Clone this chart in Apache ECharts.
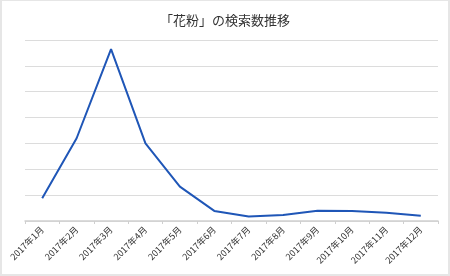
<!DOCTYPE html>
<html>
<head>
<meta charset="utf-8">
<script src="https://cdn.jsdelivr.net/npm/echarts@6/dist/echarts.min.js"></script>
<style>
html,body{margin:0;padding:0;background:#fff;}
#wrap{position:absolute;left:0;top:0;width:450px;height:276px;box-sizing:border-box;border:2px solid #e6e6e6;border-top-width:1px;}
#chart{position:absolute;left:0;top:0;width:450px;height:276px;}
</style>
</head>
<body>
<div id="wrap"></div>
<div id="chart"></div>
<script>
const titleText = '「花粉」の検索数推移';
const categories = ['2017年1月','2017年2月','2017年3月','2017年4月','2017年5月','2017年6月','2017年7月','2017年8月','2017年9月','2017年10月','2017年11月','2017年12月'];
const searchCounts = [88, 320, 665, 300, 133, 39, 17, 23, 40, 39, 32, 20];
const yMin = 0, yMax = 700, yInterval = 100;

const chart = echarts.init(document.getElementById('chart'), null, {renderer:'canvas'});
chart.setOption({
  animation:false,
  backgroundColor:'transparent',
  title:{
    text:titleText,
    left:'center',
    top:9,
    textStyle:{fontFamily:'Noto Sans CJK JP',fontSize:13,fontWeight:'normal',color:'#333'}
  },
  grid:{left:25,right:12,top:40,bottom:55,containLabel:false},
  xAxis:{
    type:'category',
    data:categories,
    boundaryGap:true,
    axisLine:{lineStyle:{color:'#cfcfcf',width:1.5}},
    axisTick:{show:true,length:3,lineStyle:{color:'#cfcfcf'}},
    axisLabel:{rotate:45,fontSize:9,color:'#333',margin:7,interval:0,fontFamily:'Noto Sans CJK JP'}
  },
  yAxis:{
    type:'value',
    min:yMin,max:yMax,interval:yInterval,
    axisLine:{show:false},
    axisTick:{show:false},
    axisLabel:{show:false},
    splitLine:{lineStyle:{color:'#dcdcdc',width:1}}
  },
  series:[{
    type:'line',
    data:searchCounts,
    showSymbol:false,
    symbol:'none',
    lineStyle:{color:'#1f56b7',width:2},
    itemStyle:{color:'#1f56b7'}
  }]
});
</script>
</body>
</html>
